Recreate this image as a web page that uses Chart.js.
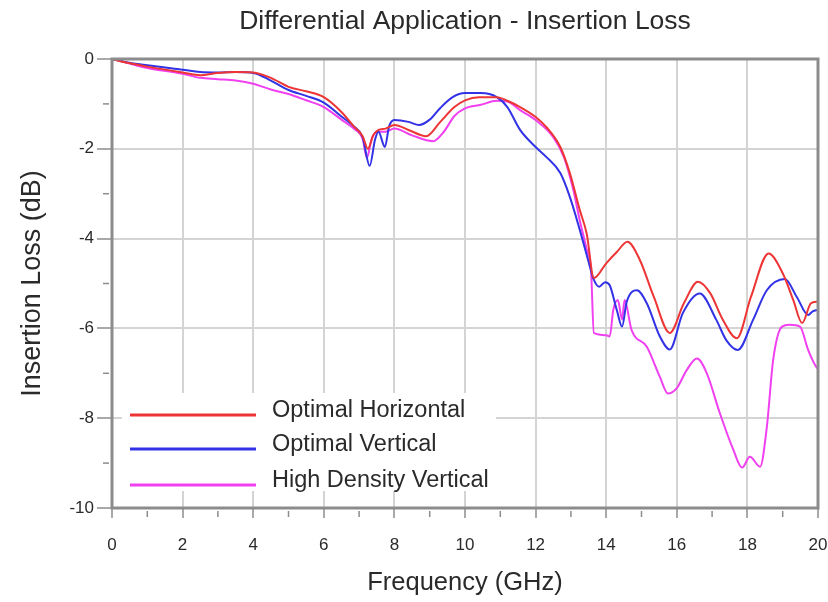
<!DOCTYPE html>
<html lang="en">
<head>
    <meta charset="UTF-8">
    <title>Differential Application - Insertion Loss</title>
    <script src="https://cdn.jsdelivr.net/npm/chart.js"></script>
    <style>
        body {
            margin: 0;
            padding: 0;
            background-color: #fff;
        }

        .wrap {
            width: 828px;
            height: 602px;
        }
    </style>
</head>
<body>
    <div class="wrap">
        <canvas id="lossChart" width="828" height="602"></canvas>
    </div>

    <script>
        // series names
        const seriesNames = ['Optimal Horizontal', 'Optimal Vertical', 'High Density Vertical'];

        // Optimal Horizontal (red)
        const freqH = [0, 0.4, 1, 2, 2.5, 3, 3.5, 4, 4.5, 5, 5.5, 6, 6.5, 6.85, 7.1, 7.25, 7.4, 7.55, 7.75, 8,
            8.4, 8.9, 9.3, 9.7, 10, 10.4, 10.9, 11.2, 11.56, 12, 12.3, 12.7, 12.97, 13.25, 13.45, 13.65,
            14.0, 14.3, 14.6, 14.95, 15.35, 15.8, 16.2, 16.6, 16.95, 17.3, 17.7, 18.1, 18.6, 19.0, 19.3,
            19.55, 19.8, 20];
        const lossH = [0, -0.08, -0.17, -0.3, -0.36, -0.31, -0.29, -0.3, -0.42, -0.62, -0.72, -0.85, -1.18, -1.5, -1.72, -2.0, -1.7, -1.58, -1.55, -1.47,
            -1.58, -1.72, -1.4, -1.07, -0.92, -0.85, -0.85, -0.93, -1.07, -1.29, -1.51, -1.96, -2.54, -3.36, -3.9, -4.88,
            -4.55, -4.3, -4.07, -4.47, -5.3, -6.1, -5.44, -4.96, -5.22, -5.8, -6.22, -5.3, -4.33, -4.77, -5.37,
            -5.88, -5.44, -5.4];

        // Optimal Vertical (blue)
        const freqV = [0, 0.4, 1, 2, 2.5, 3, 3.5, 4, 4.5, 5, 5.5, 6, 6.5, 6.85, 7.1, 7.3, 7.45, 7.55, 7.73, 7.85, 8,
            8.4, 8.7, 9.0, 9.3, 9.65, 10, 10.45, 10.9, 11.2, 11.56, 12, 12.3, 12.7, 12.97, 13.25, 13.54, 13.63,
            13.8, 13.97, 14.1, 14.3, 14.45, 14.58, 14.87, 15.15, 15.52, 15.8, 16.17, 16.65, 17.12, 17.4, 17.73,
            18.16, 18.55, 19.06, 19.4, 19.72, 19.85, 20];
        const lossV = [0, -0.07, -0.14, -0.24, -0.29, -0.3, -0.29, -0.31, -0.48, -0.69, -0.82, -0.97, -1.28, -1.5, -1.74, -2.38, -1.8, -1.62, -1.96, -1.5, -1.36,
            -1.4, -1.47, -1.35, -1.09, -0.85, -0.76, -0.76, -0.85, -1.07, -1.58, -1.96, -2.18, -2.54, -3.07, -3.8, -4.63, -4.88,
            -5.07, -4.97, -5.04, -5.59, -5.96, -5.41, -5.15, -5.44, -6.18, -6.47, -5.66, -5.22, -5.81, -6.26, -6.48,
            -5.81, -5.15, -4.9, -5.3, -5.7, -5.62, -5.59];

        // High Density Vertical (magenta)
        const freqD = [0, 0.4, 1, 2, 2.5, 3, 3.5, 4, 4.5, 5, 5.5, 6, 6.5, 6.85, 7.1, 7.22, 7.35, 7.5, 7.75, 8,
            8.5, 9.1, 9.4, 9.7, 10, 10.45, 10.9, 11.2, 11.56, 12, 12.5, 12.8, 13.07, 13.25, 13.45, 13.57, 13.65,
            14.0, 14.1, 14.2, 14.33, 14.45, 14.52, 14.72, 15.15, 15.52, 15.75, 16.0, 16.28, 16.57, 16.85, 17.22,
            17.6, 17.85, 18.07, 18.36, 18.55, 18.73, 18.98, 19.2, 19.49, 19.72, 19.95, 20];
        const lossD = [0, -0.08, -0.2, -0.33, -0.42, -0.45, -0.48, -0.55, -0.68, -0.78, -0.92, -1.07, -1.35, -1.55, -1.78, -2.2, -1.8, -1.62, -1.62, -1.55,
            -1.7, -1.83, -1.62, -1.27, -1.1, -1.02, -0.93, -0.95, -1.14, -1.36, -1.74, -2.18, -2.92, -3.59, -4.25, -4.7, -6.1,
            -6.15, -6.18, -5.59, -5.37, -5.8, -5.37, -6.04, -6.41, -7.08, -7.45, -7.33, -6.93, -6.67, -7.0, -7.89,
            -8.7, -9.1, -8.86, -9.08, -8.2, -6.7, -5.96, -5.92, -5.96, -6.48, -6.86, -6.9];

        // axis ticks
        const xTicks = [0, 2, 4, 6, 8, 10, 12, 14, 16, 18, 20];
        const yTicks = [0, -2, -4, -6, -8, -10];

        const toPoints = (xs, ys) => xs.map((x, i) => ({ x: x, y: ys[i] }));

        const frameColor = '#8c8c8c';
        const gridColor = '#d4d4d4';
        const textColor = '#2a2a2a';
        const fontFamily = "'Liberation Sans', Arial, sans-serif";

        // title, frame, minor ticks and legend drawn on the chart area
        const decorPlugin = {
            id: 'decor',
            beforeDraw(chart) {
                const ctx = chart.ctx;
                ctx.save();
                ctx.fillStyle = '#fff';
                ctx.fillRect(0, 0, chart.width, chart.height);
                ctx.restore();
            },
            afterDatasetsDraw(chart) {
                const ctx = chart.ctx;
                const a = chart.chartArea;
                const xs = chart.scales.x;
                const ys = chart.scales.y;
                ctx.save();

                // frame
                ctx.strokeStyle = frameColor;
                ctx.lineWidth = 3;
                ctx.strokeRect(a.left, a.top, a.right - a.left, a.bottom - a.top);

                // minor ticks
                ctx.lineWidth = 1.5;
                for (let v = 1; v < 20; v += 2) {
                    const px = xs.getPixelForValue(v);
                    ctx.beginPath();
                    ctx.moveTo(px, a.bottom + 3);
                    ctx.lineTo(px, a.bottom + 9);
                    ctx.stroke();
                }
                for (let v = -1; v > -10; v -= 2) {
                    const py = ys.getPixelForValue(v);
                    ctx.beginPath();
                    ctx.moveTo(a.left - 9, py);
                    ctx.lineTo(a.left - 3, py);
                    ctx.stroke();
                }

                // legend box
                const bx = a.left + 10;
                ctx.fillStyle = '#fff';
                ctx.fillRect(bx, a.top + 334, 374, 98);
                ctx.font = '23.5px ' + fontFamily;
                ctx.textBaseline = 'middle';
                const rows = [354, 388, 424];
                chart.data.datasets.forEach((ds, i) => {
                    const y = a.top + rows[i];
                    ctx.strokeStyle = ds.borderColor;
                    ctx.lineWidth = 3;
                    ctx.beginPath();
                    ctx.moveTo(a.left + 18, y + 2);
                    ctx.lineTo(a.left + 144, y + 2);
                    ctx.stroke();
                    ctx.fillStyle = textColor;
                    ctx.fillText(ds.label, a.left + 160, y - 2);
                });

                // title
                ctx.fillStyle = textColor;
                ctx.font = '26.5px ' + fontFamily;
                ctx.textAlign = 'center';
                ctx.textBaseline = 'middle';
                ctx.fillText('Differential Application - Insertion Loss', (a.left + a.right) / 2, 22);
                ctx.restore();
            }
        };

        const ctx = document.getElementById('lossChart').getContext('2d');
        new Chart(ctx, {
            type: 'line',
            data: {
                datasets: [
                    { label: seriesNames[0], data: toPoints(freqH, lossH), borderColor: '#ee3535' },
                    { label: seriesNames[1], data: toPoints(freqV, lossV), borderColor: '#3232e6' },
                    { label: seriesNames[2], data: toPoints(freqD, lossD), borderColor: '#f040f0' }
                ]
            },
            options: {
                responsive: false,
                animation: false,
                layout: { padding: { top: 59, right: 10, left: 0, bottom: 0 } },
                elements: {
                    point: { radius: 0 },
                    line: { borderWidth: 2, cubicInterpolationMode: 'monotone', fill: false }
                },
                plugins: {
                    legend: { display: false },
                    title: { display: false },
                    tooltip: { enabled: false }
                },
                scales: {
                    x: {
                        type: 'linear',
                        min: 0,
                        max: 20,
                        afterFit: s => { s.height = 94; s.paddingLeft = 0; s.paddingRight = 0; },
                        afterBuildTicks: s => { s.ticks = xTicks.map(v => ({ value: v })); },
                        ticks: {
                            color: textColor,
                            font: { size: 17, family: fontFamily },
                            padding: 17,
                            maxRotation: 0
                        },
                        grid: { color: gridColor, lineWidth: 2, tickColor: frameColor, tickLength: 10, tickWidth: 1.5 },
                        border: { display: false },
                        title: {
                            display: true,
                            text: 'Frequency (GHz)',
                            color: textColor,
                            font: { size: 25.5, family: fontFamily },
                            padding: { top: 0, bottom: 4 }
                        }
                    },
                    y: {
                        min: -10,
                        max: 0,
                        afterFit: s => { s.width = 112; },
                        afterBuildTicks: s => { s.ticks = yTicks.map(v => ({ value: v })); },
                        ticks: {
                            color: textColor,
                            font: { size: 17, family: fontFamily },
                            padding: 3
                        },
                        grid: { color: gridColor, lineWidth: 2, tickColor: frameColor, tickLength: 15, tickWidth: 1.5 },
                        border: { display: false },
                        title: {
                            display: true,
                            text: 'Insertion Loss (dB)',
                            color: textColor,
                            font: { size: 27, family: fontFamily },
                            padding: { top: 16, bottom: 0 }
                        }
                    }
                }
            },
            plugins: [decorPlugin]
        });
    </script>
</body>
</html>
